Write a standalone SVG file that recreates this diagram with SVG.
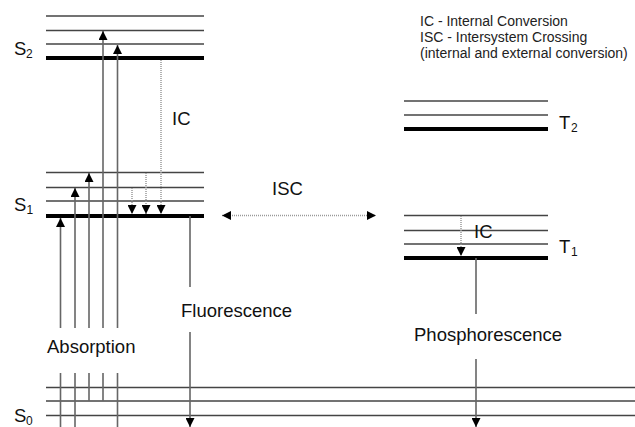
<svg xmlns="http://www.w3.org/2000/svg" width="635" height="427" viewBox="0 0 635 427">
<defs>
<marker id="ah" markerUnits="userSpaceOnUse" markerWidth="9" markerHeight="9" refX="8" refY="4" orient="auto-start-reverse" viewBox="0 0 8 8">
<path d="M0,0 L8,4 L0,8 z" fill="#000"/>
</marker>
</defs>
<style>
.lv{stroke:#444;stroke-width:1.5;fill:none}
.th{stroke:#000;stroke-width:4;fill:none}
.up{stroke:#666;stroke-width:1.6;fill:none;marker-end:url(#ah)}
.em{stroke:#666;stroke-width:1.6;fill:none;marker-end:url(#ah)}
.dt{stroke:#999;stroke-width:1.5;stroke-dasharray:1 1;fill:none;marker-end:url(#ah)}
.lb{font-family:"Liberation Sans",Arial,sans-serif;font-size:18.5px;fill:#111}
.sb{font-family:"Liberation Sans",Arial,sans-serif;font-size:12px;fill:#111}
.lg{font-family:"Liberation Sans",Arial,sans-serif;font-size:14px;fill:#222}
</style>
<rect width="635" height="427" fill="#fff"/>
<g id="S2">
<line class="lv" x1="46" y1="16" x2="204" y2="16"/>
<line class="lv" x1="46" y1="30.5" x2="204" y2="30.5"/>
<line class="lv" x1="46" y1="44" x2="204" y2="44"/>
<line class="th" x1="46" y1="58" x2="204" y2="58"/>
<text class="lb" x="14" y="55">S</text><text class="sb" x="26" y="58">2</text>
</g>
<g id="S1">
<line class="lv" x1="46" y1="172.5" x2="204" y2="172.5"/>
<line class="lv" x1="46" y1="187.5" x2="204" y2="187.5"/>
<line class="lv" x1="46" y1="201" x2="204" y2="201"/>
<line class="th" x1="46" y1="216" x2="204" y2="216"/>
<text class="lb" x="14" y="211">S</text><text class="sb" x="26.5" y="214">1</text>
</g>
<g id="S0">
<line class="lv" x1="46" y1="387.5" x2="635" y2="387.5"/>
<line class="lv" x1="46" y1="401" x2="635" y2="401"/>
<line class="lv" x1="46" y1="415.5" x2="635" y2="415.5"/>
<text class="lb" x="14" y="421.5">S</text><text class="sb" x="26" y="424.5">0</text>
</g>
<g id="T2">
<line class="lv" x1="404" y1="101" x2="548" y2="101"/>
<line class="lv" x1="404" y1="115" x2="548" y2="115"/>
<line class="th" x1="404" y1="129" x2="548" y2="129"/>
<text class="lb" x="559" y="129">T</text><text class="sb" x="571" y="132">2</text>
</g>
<g id="T1">
<line class="lv" x1="404" y1="215.5" x2="548" y2="215.5"/>
<line class="lv" x1="404" y1="230.5" x2="548" y2="230.5"/>
<line class="lv" x1="404" y1="244" x2="548" y2="244"/>
<line class="th" x1="404" y1="258" x2="548" y2="258"/>
<text class="lb" x="559" y="253">T</text><text class="sb" x="571" y="256">1</text>
</g>
<g id="legend">
<text class="lg" x="420" y="26">IC - Internal Conversion</text>
<text class="lg" x="420" y="42">ISC - Intersystem Crossing</text>
<text class="lg" x="420" y="58">(internal and external conversion)</text>
</g>
<g id="connectors">
<path class="up" d="M60.5,427 V373 M60.5,328 V218"/>
<path class="up" d="M75,427 V373 M75,328 V188"/>
<path class="up" d="M89,401 V373 M89,328 V173"/>
<path class="up" d="M103,401 V373 M103,328 V31"/>
<path class="up" d="M117.5,427 V373 M117.5,328 V45"/>
<path class="dt" d="M161,60 V214"/>
<path class="dt" d="M146,173 V214"/>
<path class="dt" d="M132,188 V214"/>
<path class="dt" d="M461,216 V256"/>
<path class="dt" d="M222,215.5 H376" style="marker-start:url(#ah)"/>
<path class="em" d="M190,216 V287 M190,332 V427"/>
<path class="em" d="M476,258 V314 M476,359 V427"/>
</g>
<g id="labels">
<text class="lb" x="47" y="353">Absorption</text>
<text class="lb" x="181" y="317">Fluorescence</text>
<text class="lb" x="414" y="341">Phosphorescence</text>
<text class="lb" x="172" y="125">IC</text>
<text class="lb" x="272" y="195">ISC</text>
<text class="lb" x="474" y="238">IC</text>
</g>
</svg>
